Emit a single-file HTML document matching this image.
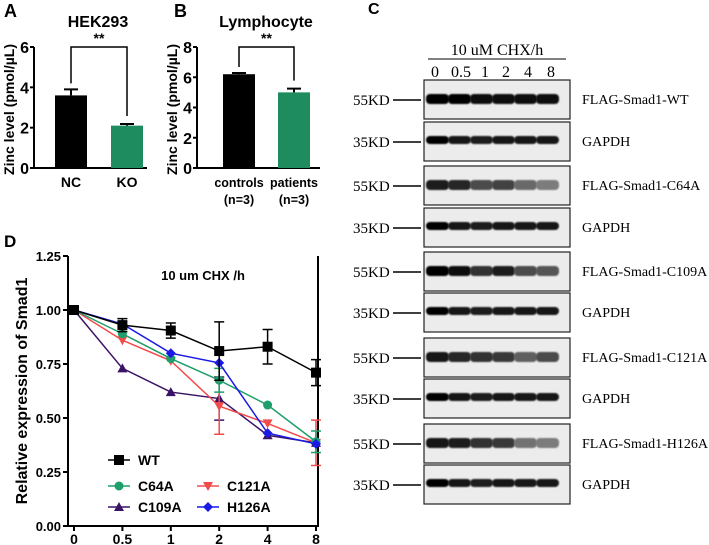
<!DOCTYPE html>
<html><head><meta charset="utf-8"><style>
html,body{margin:0;padding:0;background:#fff;}
svg{display:block;}
.b{font-family:"Liberation Sans",Arial,sans-serif;font-weight:bold;}
.s{font-family:"Liberation Serif","Times New Roman",serif;}
</style></head><body>
<svg id="fig" width="709" height="545" viewBox="0 0 709 545" xmlns="http://www.w3.org/2000/svg">
<defs><filter id="blur" x="-20%" y="-50%" width="140%" height="200%"><feGaussianBlur stdDeviation="0.9"/></filter></defs>
<g id="pA"></g>
<g id="pB"></g>
<g id="pC"></g>
<g id="pD"></g>
</svg>
<script>
// Panel A data
const aCats = ["NC","KO"];
const aVals = [3.6, 2.1];
const aErr = [0.3, 0.08];
const aTicks = [0,2,4,6];
// Panel B data
const bCats = ["controls","patients"];
const bSub = ["(n=3)","(n=3)"];
const bVals = [6.2, 5.0];
const bErr = [0.08, 0.25];
const bTicks = [0,2,4,6,8];
// Panel D data
const dCats = ["0","0.5","1","2","4","8"];
const dTicks = [0,0.25,0.5,0.75,1.0,1.25];
const wtVals = [1,0.93,0.905,0.81,0.83,0.71];
const wtErr = [0,0.03,0.035,0.135,0.08,0.06];
const c64Vals = [1,0.89,0.775,0.675,0.56,0.39];
const c64Err = [0,0,0,0.055,0,0.05];
const c121Vals = [1,0.86,0.765,0.555,0.475,0.385];
const c121Err = [0,0,0,0.13,0,0.105];
const c109Vals = [1,0.73,0.62,0.59,0.42,0.385];
const c109Err = [0,0,0,0.1,0,0];
const h126Vals = [1,0.935,0.80,0.755,0.43,0.38];
const h126Err = [0,0,0,0,0,0];
// Panel C data
const cLanes = ["0","0.5","1","2","4","8"];
const blotLabels = ["FLAG-Smad1-WT","GAPDH","FLAG-Smad1-C64A","GAPDH","FLAG-Smad1-C109A","GAPDH","FLAG-Smad1-C121A","GAPDH","FLAG-Smad1-H126A","GAPDH"];
const blotMarkers = ["55KD","35KD","55KD","35KD","55KD","35KD","55KD","35KD","55KD","35KD"];
const bandWT = [1,1,0.95,0.95,0.95,0.95];
const bandGapdh = [1,0.9,0.85,0.9,0.9,0.9];
const bandC64 = [0.85,0.8,0.6,0.65,0.45,0.35];
const bandC109 = [1,0.95,0.75,0.85,0.6,0.55];
const bandC121 = [0.9,0.8,0.75,0.7,0.5,0.6];
const bandH126 = [0.9,0.85,0.75,0.7,0.4,0.35];

const NS="http://www.w3.org/2000/svg";
function mk(parent,tag,attrs,text){const e=document.createElementNS(NS,tag);for(const k in attrs)e.setAttribute(k,attrs[k]);if(text!==undefined)e.textContent=text;parent.appendChild(e);return e;}

function barPanel(g,letter,lx,title,tx,axX,axR,maxV,ticks,cats,sub,vals,err,barXs,colors,bracket,lblSize){
  const y0=168,yTop=47;
  const ys=v=>y0-(v/maxV)*(y0-yTop);
  let t=mk(g,'text',{x:lx,y:17,'font-size':18,class:'b'},letter);
  
  
  t=mk(g,'text',{x:tx,y:27,'font-size':16,class:'b','text-anchor':'middle'},title);
  
  
  t=mk(g,'text',{x:0,y:0,'font-size':14,class:'b','text-anchor':'middle',transform:`translate(${axX-20},${(y0+yTop)/2+2}) rotate(-90)`},'Zinc level (pmol/\u00b5L)');
  
  
  let l=mk(g,'line',{x1:axX,y1:yTop,x2:axX,y2:y0+1,stroke:'#000','stroke-width':2});
  
  
  l=mk(g,'line',{x1:axX-1,y1:y0,x2:axR,y2:y0,stroke:'#000','stroke-width':2});
  
  
  ticks.forEach(v=>{
    const tk=mk(g,'line',{x1:axX-4,y1:ys(v),x2:axX,y2:ys(v),stroke:'#000','stroke-width':2});
    
    
    const tl=mk(g,'text',{x:axX-5,y:ys(v)+6,'font-size':16,class:'b','text-anchor':'end'},String(v));
    
    
  });
  cats.forEach((c,i)=>{
    const x=barXs[i],w=32,cx=x+w/2;
    const r=mk(g,'rect',{x:x,y:ys(vals[i]),width:w,height:y0-ys(vals[i]),fill:colors[i]});
    
    
    const eb=mk(g,'path',{d:`M${cx},${ys(vals[i])}V${ys(vals[i]+err[i])}M${cx-7},${ys(vals[i]+err[i])}H${cx+7}`,stroke:'#000','stroke-width':2,fill:'none'});
    
    
    const lb=mk(g,'text',{x:cx,y:187,'font-size':lblSize,class:'b','text-anchor':'middle'},c);
    
    
    if(sub){const sb=mk(g,'text',{x:cx,y:204,'font-size':lblSize,class:'b','text-anchor':'middle'},sub[i]);
      
      }
  });
  const c1=barXs[0]+16,c2=barXs[1]+16;
  const br=mk(g,'path',{d:`M${c1},${ys(vals[0]+err[0])-6}V${bracket}H${c2}V${ys(vals[1]+err[1])-8}`,stroke:'#000','stroke-width':1.5,fill:'none'});
  
  
  const st=mk(g,'text',{x:(c1+c2)/2,y:bracket-4,'font-size':14,class:'b','text-anchor':'middle'},'**');
  
  
}
barPanel(document.getElementById('pA'),'A',4,'HEK293',98,34,147,6,aTicks,aCats,null,aVals,aErr,[55,111],['#000','#1e8c5e'],47,14);
barPanel(document.getElementById('pB'),'B',174,'Lymphocyte',266,197,320,8,bTicks,bCats,bSub,bVals,bErr,[223,278],['#000','#1e8c5e'],47,12.5);

// Panel C blots
(function(){
  const g=document.getElementById('pC');
  let t=mk(g,'text',{x:368,y:14,'font-size':16,class:'b'},'C');
  
  
  t=mk(g,'text',{x:497,y:55,'font-size':16,class:'s','text-anchor':'middle'},'10 uM CHX/h');
  
  
  const hl=mk(g,'line',{x1:428,y1:59,x2:566,y2:59,stroke:'#000','stroke-width':1});
  
  
  const laneX=[435,461,485,506,528,551];
  cLanes.forEach((ln,i)=>{
    const tl=mk(g,'text',{x:laneX[i],y:77,'font-size':16,class:'s','text-anchor':'middle'},ln);
    
    
  });
  const boxY=[80,122,166,208,252,293,338,379,424,465];
  const bands=[bandWT,bandGapdh,bandC64,bandGapdh,bandC109,bandGapdh,bandC121,bandGapdh,bandH126,bandGapdh];
  const bandX=[437,459,481,503,525,547];
  boxY.forEach((y,k)=>{
    const bx=mk(g,'rect',{x:424,y:y,width:146,height:39,fill:'#ececec',stroke:'#222','stroke-width':1.2});
    
    
    const cy=y+19;
    bands[k].forEach((v,i)=>{
      const gray=Math.round(190*(1-v));
      const e=mk(g,'rect',{x:bandX[i]-11,y:cy-5,width:23,height:k%2?8:10,rx:4,fill:`rgb(${gray},${gray},${gray})`,filter:'url(#blur)'});
      
      
    });
    const mt=mk(g,'text',{x:353,y:cy+6,'font-size':15,class:'s'},blotMarkers[k]);
    
    
    const ml=mk(g,'line',{x1:393,y1:cy+1,x2:421,y2:cy+1,stroke:'#000','stroke-width':1.5});
    
    
    const lt=mk(g,'text',{x:582,y:cy+5,'font-size':14,class:'s'},blotLabels[k]);
    
    
  });
})();

// Panel D line chart
(function(){
  const g=document.getElementById('pD');
  const X0=74,dx=48.4,L=68,R=318,Y0=526,Ytop=256;
  const xs=i=>X0+i*dx;
  const ys=v=>Y0-(v/1.25)*(Y0-Ytop);
  let t=mk(g,'text',{x:4,y:247,'font-size':17,class:'b'},'D');
  
  
  t=mk(g,'text',{x:203,y:280,'font-size':13,class:'b','text-anchor':'middle'},'10  um  CHX /h');
  
  
  t=mk(g,'text',{x:0,y:0,'font-size':16,class:'b','text-anchor':'middle',transform:`translate(27,${(Y0+Ytop)/2}) rotate(-90)`},'Relative expression of Smad1');
  
  
  let ax=mk(g,'path',{d:`M${L},${Ytop}V${Y0}H${R}V${Ytop}`,stroke:'#000','stroke-width':2,fill:'none'});
  
  
  dTicks.forEach(v=>{
    const tk=mk(g,'line',{x1:L-5,y1:ys(v),x2:L,y2:ys(v),stroke:'#000','stroke-width':2});
    
    
    const tl=mk(g,'text',{x:L-7,y:ys(v)+5,'font-size':13,class:'b','text-anchor':'end'},v.toFixed(2));
    
    
  });
  dCats.forEach((c,i)=>{
    const tk=mk(g,'line',{x1:xs(i),y1:Y0,x2:xs(i),y2:Y0+5,stroke:'#000','stroke-width':2});
    
    
    const tl=mk(g,'text',{x:xs(i),y:544,'font-size':14,class:'b','text-anchor':'middle'},c);
    
    
  });
  function marker(cx,cy,shape,color,name){
    let e;
    if(shape==='sq')e=mk(g,'rect',{x:cx-5,y:cy-5,width:10,height:10,fill:color});
    else if(shape==='ci')e=mk(g,'circle',{cx:cx,cy:cy,r:4.5,fill:color});
    else if(shape==='td')e=mk(g,'path',{d:`M${cx-5},${cy-4}H${cx+5}L${cx},${cy+5}Z`,fill:color});
    else if(shape==='tu')e=mk(g,'path',{d:`M${cx-5},${cy+4}H${cx+5}L${cx},${cy-5}Z`,fill:color});
    else e=mk(g,'path',{d:`M${cx},${cy-5}L${cx+5},${cy}L${cx},${cy+5}L${cx-5},${cy}Z`,fill:color});
    
    
  }
  const series=[
    {n:'C109A',v:c109Vals,e:c109Err,c:'#3b1366',s:'tu'},
    {n:'C121A',v:c121Vals,e:c121Err,c:'#f24b4b',s:'td'},
    {n:'C64A',v:c64Vals,e:c64Err,c:'#1e9e6a',s:'ci'},
    {n:'H126A',v:h126Vals,e:h126Err,c:'#1a1ae6',s:'di'},
    {n:'WT',v:wtVals,e:wtErr,c:'#000',s:'sq'}
  ];
  series.forEach(S=>{
    const d=S.v.map((v,i)=>(i?'L':'M')+xs(i)+','+ys(v)).join('');
    const p=mk(g,'path',{d:d,stroke:S.c,'stroke-width':1.5,fill:'none'});
    
    
    S.v.forEach((v,i)=>{
      if(S.e[i]>0){
        const x=xs(i),a=ys(v-S.e[i]),b=ys(v+S.e[i]);
        const eb=mk(g,'path',{d:`M${x},${a}V${b}M${x-5},${a}H${x+5}M${x-5},${b}H${x+5}`,stroke:S.c,'stroke-width':1.5,fill:'none'});
        
        
      }
      marker(xs(i),ys(v),S.s,S.c,'point-'+S.n);
    });
  });
  const leg=[{n:'WT',c:'#000',s:'sq',x:108,y:460},{n:'C64A',c:'#1e9e6a',s:'ci',x:108,y:486},{n:'C121A',c:'#f24b4b',s:'td',x:197,y:486},{n:'C109A',c:'#3b1366',s:'tu',x:108,y:507},{n:'H126A',c:'#1a1ae6',s:'di',x:197,y:507}];
  leg.forEach(L2=>{
    const ln=mk(g,'line',{x1:L2.x,y1:L2.y,x2:L2.x+22,y2:L2.y,stroke:L2.c,'stroke-width':1.5});
    
    
    marker(L2.x+11,L2.y,L2.s,L2.c,'legend-marker');
    const tx=mk(g,'text',{x:L2.x+30,y:L2.y+5,'font-size':14,class:'b'},L2.n);
    
    
  });
})();
</script>
</body></html>
